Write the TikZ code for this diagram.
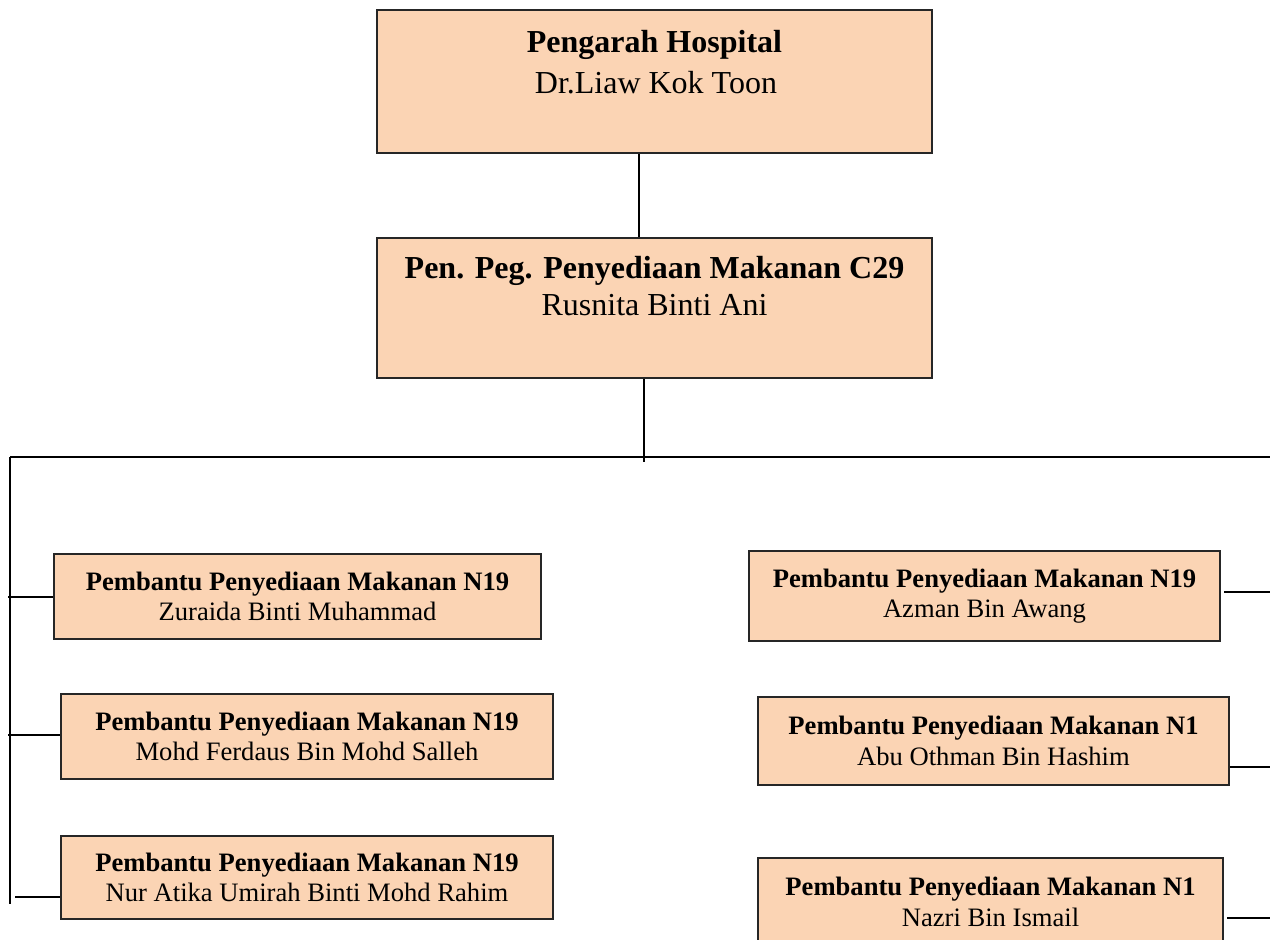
\documentclass[tikz,border=0pt]{standalone}
\usepackage{fontspec}
\setmainfont{Liberation Serif}
\definecolor{peach}{HTML}{FBD4B4}
\begin{document}
\begin{tikzpicture}[x=1pt,y=-1pt,
  box/.style={draw=black!85,fill=peach,line width=2pt,inner sep=0pt},
  conn/.style={draw=black,line width=2pt},
  bigtitle/.style={font=\fontsize{32}{40}\selectfont\bfseries,anchor=base,inner sep=0pt},
  bigname/.style={font=\fontsize{32}{40}\selectfont,anchor=base,inner sep=0pt},
  smallbox/.style={box,align=center,font=\fontsize{26.6}{30.5}\selectfont}]
\useasboundingbox (0,0) rectangle (1270,940);
\fill[white] (0,0) rectangle (1270,940);

% top boxes
\node[box,minimum width=555pt,minimum height=143pt] (dir) at (654.5,81.5) {};
\node[bigtitle] (dirT) at (654.5,52) {Pengarah Hospital};
\node[bigname] (dirN) at (656,93) {Dr.Liaw Kok Toon};

\node[box,minimum width=555pt,minimum height=140pt] (pen) at (654.5,308) {};
\node[bigtitle] (penT) at (654.5,278) {Pen. Peg. Penyediaan Makanan C29};
\node[bigname] (penN) at (654.5,315) {Rusnita Binti Ani};

% staff boxes
\node[smallbox,minimum width=487pt,minimum height=85pt] (L1) at (297.5,596.5)
  {\textbf{Pembantu Penyediaan Makanan N19}\\Zuraida Binti Muhammad};
\node[smallbox,minimum width=492pt,minimum height=85pt] (L2) at (307,736.5)
  {\textbf{Pembantu Penyediaan Makanan N19}\\Mohd Ferdaus Bin Mohd Salleh};
\node[smallbox,minimum width=492pt,minimum height=83pt] (L3) at (307,877.5)
  {\textbf{Pembantu Penyediaan Makanan N19}\\Nur Atika Umirah Binti Mohd Rahim};
\node[smallbox,minimum width=471pt,minimum height=90pt] (R1) at (984.5,596)
  {\textbf{Pembantu Penyediaan Makanan N19}\\Azman Bin Awang};
\node[smallbox,minimum width=471pt,minimum height=88pt] (R2) at (993.5,741)
  {\textbf{Pembantu Penyediaan Makanan N1}\\Abu Othman Bin Hashim};
\node[smallbox,minimum width=465pt,minimum height=88pt] (R3) at (990.5,902)
  {\textbf{Pembantu Penyediaan Makanan N1}\\Nazri Bin Ismail};

% free-end coordinates
\coordinate (busL) at (10,457);
\coordinate (busR) at (1272,457);
\coordinate (busM) at (644,462);
\coordinate (vL) at (10,904);
\coordinate (cL1) at (8,597);
\coordinate (cL2) at (8,735);
\coordinate (cL3) at (15,897);
\coordinate (cR1) at (1272,592);
\coordinate (cR2) at (1272,767);
\coordinate (cR3) at (1272,918);

% connectors
\draw[conn] ([xshift=-15.5pt]dir.south) -- ([xshift=-15.5pt]pen.north);
\draw[conn] ([xshift=-10.5pt]pen.south) -- (busM);
\draw[conn] (busL) -- (busR);
\draw[conn] (busL) -- (vL);
\draw[conn] (cL1) -- (cL1 -| L1.west);
\draw[conn] (cL2) -- (cL2 -| L2.west);
\draw[conn] (cL3) -- (cL3 -| L3.west);
\draw[conn] ([xshift=3pt]R1.east |- cR1) -- (cR1);
\draw[conn] (R2.east |- cR2) -- (cR2);
\draw[conn] ([xshift=3pt]R3.east |- cR3) -- (cR3);
\end{tikzpicture}
\end{document}
